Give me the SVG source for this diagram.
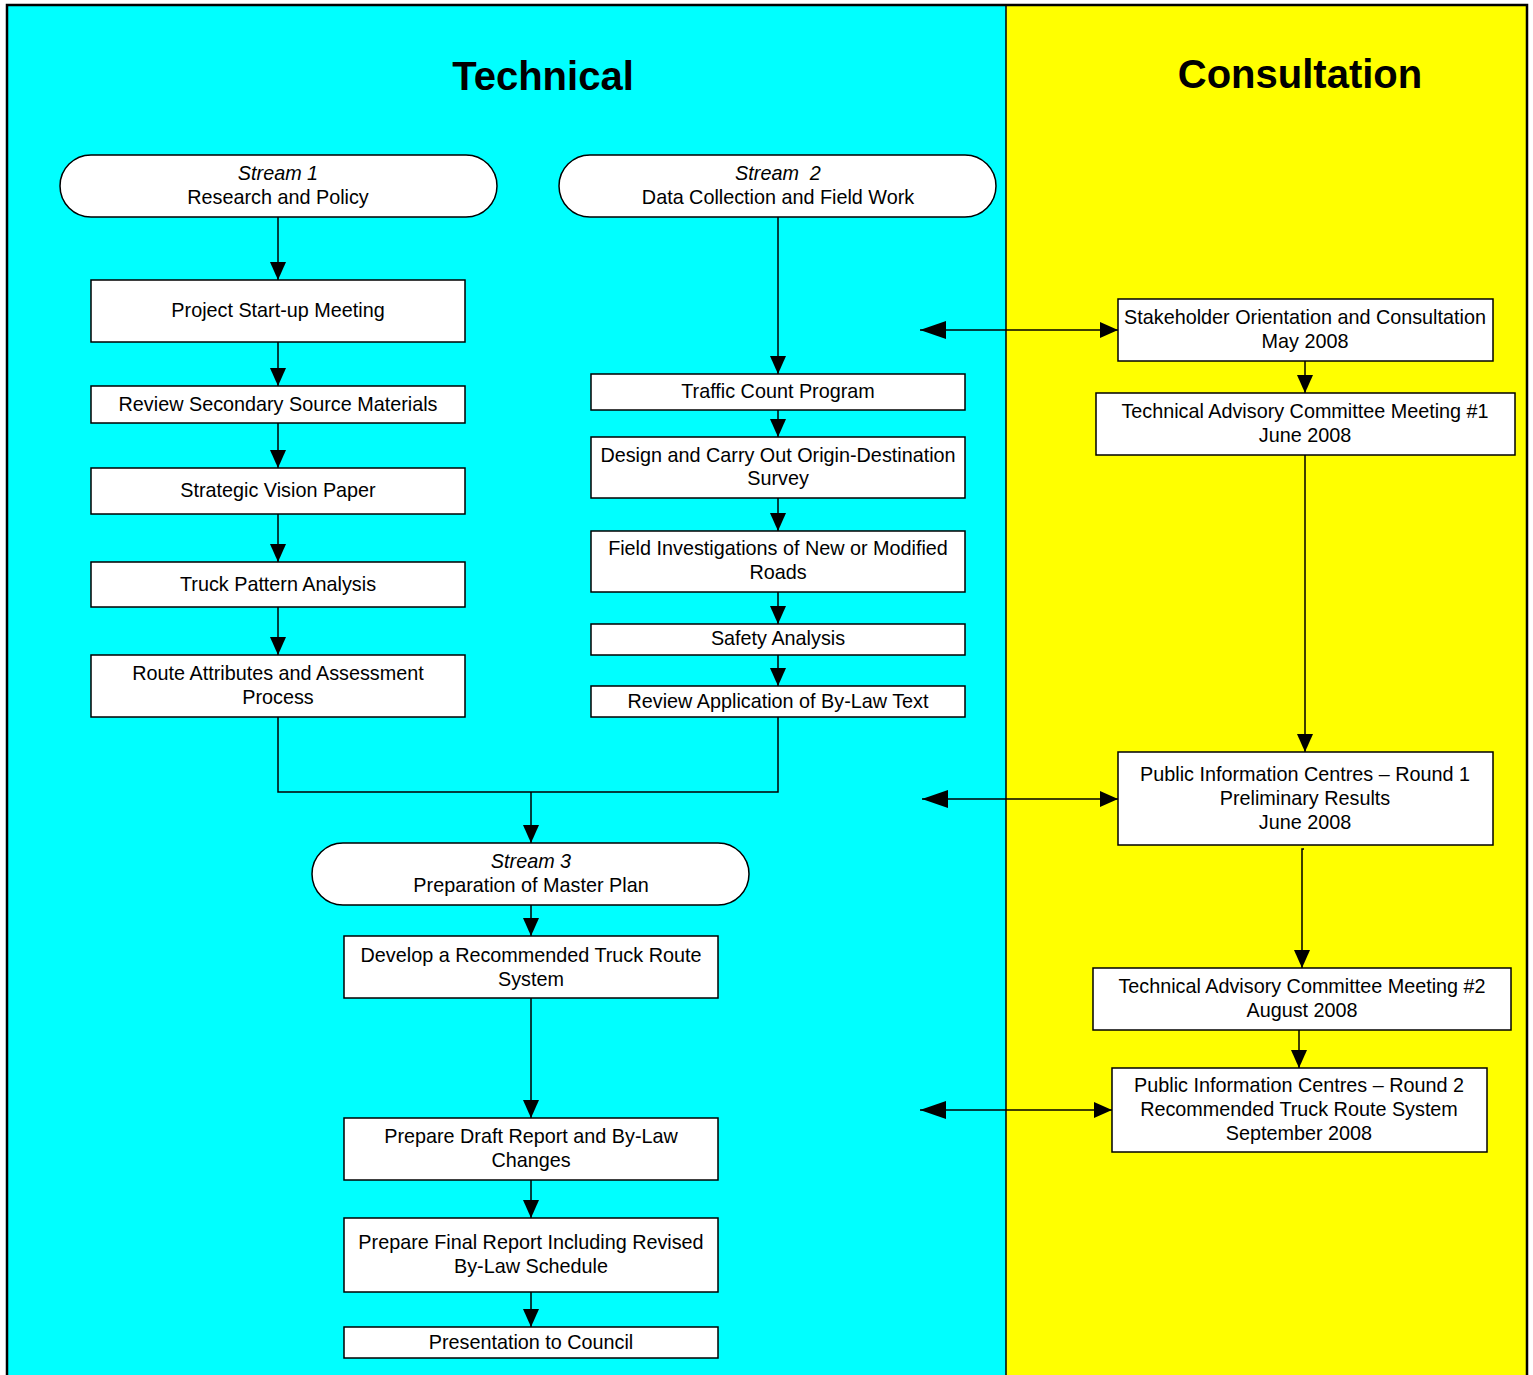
<svg xmlns="http://www.w3.org/2000/svg" width="1533" height="1375" viewBox="0 0 1533 1375">
<style>
.t{font-family:"Liberation Sans",Arial,sans-serif;font-size:19.8px;fill:#000;text-anchor:middle}
.i{font-style:italic}
.h{font-family:"Liberation Sans",Arial,sans-serif;font-size:40px;font-weight:bold;text-anchor:middle}
.b{fill:#fff;stroke:#000;stroke-width:1.5}
.c{fill:none;stroke:#000;stroke-width:1.5}
</style>
<defs>
<marker id="a" markerUnits="userSpaceOnUse" markerWidth="18" markerHeight="18" viewBox="0 0 18 18" refX="18" refY="9" orient="auto-start-reverse"><path d="M0,1 L18,9 L0,17 z" fill="#000"/></marker>
<marker id="g" markerUnits="userSpaceOnUse" markerWidth="26" markerHeight="20" viewBox="0 0 26 20" refX="26" refY="10" orient="auto-start-reverse"><path d="M0,1 L26,10 L0,19 z" fill="#000"/></marker>
</defs>
<rect x="0" y="0" width="1533" height="1375" fill="#fff"/>
<rect x="7" y="5" width="999" height="1380" fill="#00ffff"/>
<rect x="1006" y="5" width="521" height="1380" fill="#ffff00"/>
<path d="M7,1385 V5 H1527 V1385" fill="none" stroke="#000" stroke-width="2.5"/>
<line x1="1006" y1="5" x2="1006" y2="1375" stroke="#000" stroke-width="1.5"/>
<text class="h" x="543" y="90">Technical</text>
<text class="h" x="1300" y="88">Consultation</text>
<g id="connectors">
<path class="c" d="M278,217 V280" marker-end="url(#a)"/>
<path class="c" d="M278,342 V386" marker-end="url(#a)"/>
<path class="c" d="M278,423 V468" marker-end="url(#a)"/>
<path class="c" d="M278,514 V562" marker-end="url(#a)"/>
<path class="c" d="M278,607 V655" marker-end="url(#a)"/>
<path class="c" d="M778,217 V374" marker-end="url(#a)"/>
<path class="c" d="M778,410 V437" marker-end="url(#a)"/>
<path class="c" d="M778,498 V531" marker-end="url(#a)"/>
<path class="c" d="M778,592 V624" marker-end="url(#a)"/>
<path class="c" d="M778,655 V686" marker-end="url(#a)"/>
<path class="c" d="M278,717 V792 H778 V717"/>
<path class="c" d="M531,792 V843" marker-end="url(#a)"/>
<path class="c" d="M531,905 V936" marker-end="url(#a)"/>
<path class="c" d="M531,998 V1118" marker-end="url(#a)"/>
<path class="c" d="M531,1180 V1218" marker-end="url(#a)"/>
<path class="c" d="M531,1292 V1327" marker-end="url(#a)"/>
<path class="c" d="M920,330 H1118" marker-start="url(#g)" marker-end="url(#a)"/>
<path class="c" d="M922,799 H1118" marker-start="url(#g)" marker-end="url(#a)"/>
<path class="c" d="M920,1110 H1112" marker-start="url(#g)" marker-end="url(#a)"/>
<path class="c" d="M1305,361 V393" marker-end="url(#a)"/>
<path class="c" d="M1305,455 V752" marker-end="url(#a)"/>
<path class="c" d="M1304,849 H1302 V968" marker-end="url(#a)"/>
<path class="c" d="M1299,1030 V1068" marker-end="url(#a)"/>
</g>
<g id="stream1"><rect class="b" x="60" y="155" width="437" height="62" rx="31"/><text class="t i" x="278" y="180">Stream 1</text><text class="t" x="278" y="204">Research and Policy</text></g>
<g id="stream2"><rect class="b" x="559" y="155" width="437" height="62" rx="31"/><text class="t i" x="778" y="180" style="white-space:pre">Stream  2</text><text class="t" x="778" y="204">Data Collection and Field Work</text></g>
<g id="stream3"><rect class="b" x="312" y="843" width="437" height="62" rx="31"/><text class="t i" x="531" y="868">Stream 3</text><text class="t" x="531" y="892">Preparation of Master Plan</text></g>
<g id="n1"><rect class="b" x="91" y="280" width="374" height="62"/><text class="t" x="278" y="317">Project Start-up Meeting</text></g>
<g id="n2"><rect class="b" x="91" y="386" width="374" height="37"/><text class="t" x="278" y="411">Review Secondary Source Materials</text></g>
<g id="n3"><rect class="b" x="91" y="468" width="374" height="46"/><text class="t" x="278" y="497">Strategic Vision Paper</text></g>
<g id="n4"><rect class="b" x="91" y="562" width="374" height="45"/><text class="t" x="278" y="591">Truck Pattern Analysis</text></g>
<g id="n5"><rect class="b" x="91" y="655" width="374" height="62"/><text class="t" x="278" y="680">Route Attributes and Assessment</text><text class="t" x="278" y="704">Process</text></g>
<g id="m1"><rect class="b" x="591" y="374" width="374" height="36"/><text class="t" x="778" y="398">Traffic Count Program</text></g>
<g id="m2"><rect class="b" x="591" y="437" width="374" height="61"/><text class="t" x="778" y="462">Design and Carry Out Origin-Destination</text><text class="t" x="778" y="485">Survey</text></g>
<g id="m3"><rect class="b" x="591" y="531" width="374" height="61"/><text class="t" x="778" y="555">Field Investigations of New or Modified</text><text class="t" x="778" y="579">Roads</text></g>
<g id="m4"><rect class="b" x="591" y="624" width="374" height="31"/><text class="t" x="778" y="645">Safety Analysis</text></g>
<g id="m5"><rect class="b" x="591" y="686" width="374" height="31"/><text class="t" x="778" y="708">Review Application of By-Law Text</text></g>
<g id="p1"><rect class="b" x="344" y="936" width="374" height="62"/><text class="t" x="531" y="962">Develop a Recommended Truck Route</text><text class="t" x="531" y="986">System</text></g>
<g id="p2"><rect class="b" x="344" y="1118" width="374" height="62"/><text class="t" x="531" y="1143">Prepare Draft Report and By-Law</text><text class="t" x="531" y="1167">Changes</text></g>
<g id="p3"><rect class="b" x="344" y="1218" width="374" height="74"/><text class="t" x="531" y="1249">Prepare Final Report Including Revised</text><text class="t" x="531" y="1273">By-Law Schedule</text></g>
<g id="p4"><rect class="b" x="344" y="1327" width="374" height="31"/><text class="t" x="531" y="1349">Presentation to Council</text></g>
<g id="c1"><rect class="b" x="1118" y="299" width="375" height="62"/><text class="t" x="1305" y="324">Stakeholder Orientation and Consultation</text><text class="t" x="1305" y="348">May 2008</text></g>
<g id="c2"><rect class="b" x="1096" y="393" width="419" height="62"/><text class="t" x="1305" y="418">Technical Advisory Committee Meeting #1</text><text class="t" x="1305" y="442">June 2008</text></g>
<g id="c3"><rect class="b" x="1118" y="752" width="375" height="93"/><text class="t" x="1305" y="781">Public Information Centres – Round 1</text><text class="t" x="1305" y="805">Preliminary Results</text><text class="t" x="1305" y="829">June 2008</text></g>
<g id="c4"><rect class="b" x="1093" y="968" width="418" height="62"/><text class="t" x="1302" y="993">Technical Advisory Committee Meeting #2</text><text class="t" x="1302" y="1017">August 2008</text></g>
<g id="c5"><rect class="b" x="1112" y="1068" width="375" height="84"/><text class="t" x="1299" y="1092">Public Information Centres – Round 2</text><text class="t" x="1299" y="1116">Recommended Truck Route System</text><text class="t" x="1299" y="1140">September 2008</text></g>
</svg>
